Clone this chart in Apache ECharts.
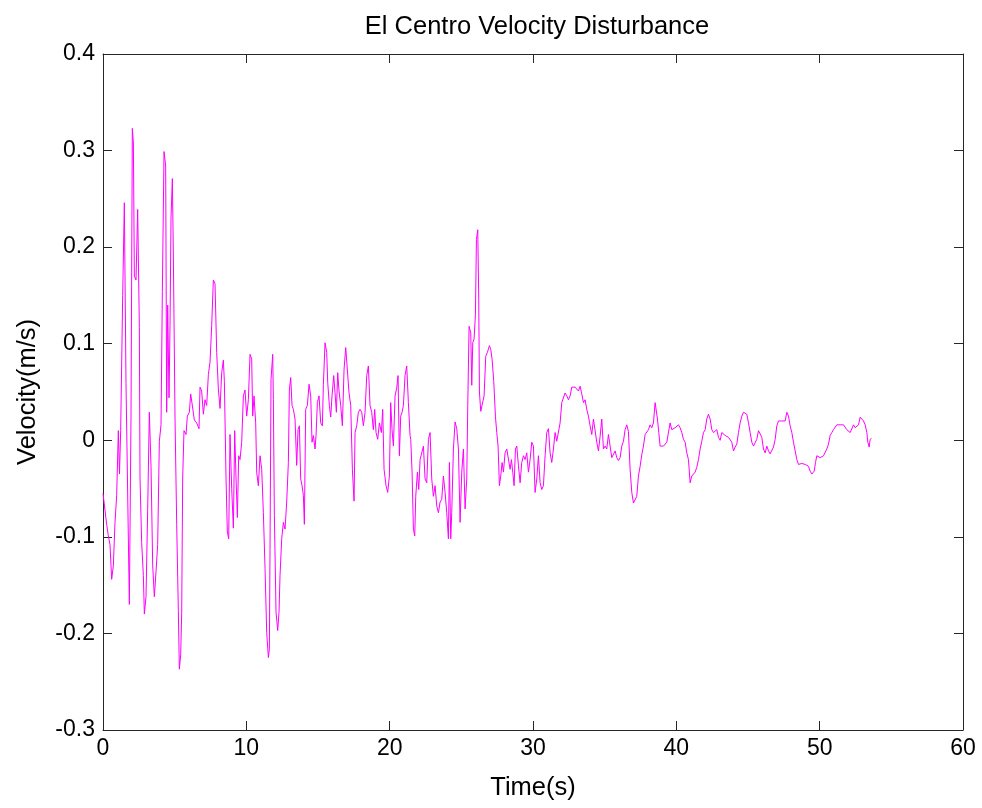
<!DOCTYPE html>
<html>
<head>
<meta charset="utf-8">
<script src="https://cdn.jsdelivr.net/npm/echarts@6/dist/echarts.min.js"></script>
<style>
html,body{margin:0;padding:0;background:#fff;}
#chart{width:982px;height:808px;}
</style>
</head>
<body>
<div id="chart"></div>
<script>
var chartTitle = 'El Centro Velocity Disturbance';
var xName = 'Time(s)';
var yName = 'Velocity(m/s)';
var xTicks = [0, 10, 20, 30, 40, 50, 60];
var yTicks = [-0.3, -0.2, -0.1, 0, 0.1, 0.2, 0.3, 0.4];

var timeS = [
0,0.256,0.372,0.489,0.605,0.721,0.838,0.954,1.07,1.15,1.233,1.373,1.489,1.605,1.698,1.838,1.954,2.047,2.12,2.187,
2.303,2.419,2.536,2.582,2.698,2.815,2.885,3.001,3.117,3.233,3.35,3.466,3.582,3.699,3.815,3.931,4.048,4.141,4.257,4.373,
4.443,4.513,4.606,4.676,4.745,4.838,4.908,5.025,5.141,5.257,5.327,5.42,5.49,5.559,5.652,5.792,5.885,6.025,6.118,6.257,
6.374,6.536,6.699,6.769,6.885,7.001,7.118,7.234,7.351,7.467,7.583,7.699,7.816,7.932,8.048,8.165,8.281,8.397,8.467,8.583,
8.676,8.769,8.862,8.979,9.095,9.188,9.281,9.374,9.467,
9.56,9.676,9.793,9.909,10.025,10.142,10.258,10.374,10.444,10.537,10.653,10.723,10.839,10.956,11.072,11.188,11.305,11.421,11.537,11.607,
11.653,11.723,11.84,11.886,11.956,12.072,12.188,12.281,12.351,12.468,12.584,12.7,12.816,12.933,13.002,13.096,13.189,13.282,13.398,13.514,
13.607,13.7,13.793,13.886,13.979,14.049,14.142,14.258,14.375,14.491,14.584,14.677,14.793,14.863,14.956,15.073,15.189,15.305,15.375,15.491,
15.608,15.677,15.794,15.887,15.98,16.096,16.189,16.282,16.375,16.468,16.585,16.701,16.817,16.934,17.073,17.166,17.283,17.399,17.515,17.585,
17.701,17.817,17.934,18.05,18.166,18.283,18.399,18.515,18.631,18.748,18.864,18.957,19.05,19.166,19.283,19.422,19.515,19.608,19.748,19.864,
19.98,20.073,20.166,20.26,20.376,20.492,20.585,20.678,20.771,20.864,20.957,21.073,21.19,21.306,21.422,
21.47,21.563,21.656,21.749,21.819,21.936,22.029,22.122,22.238,22.354,22.471,22.587,22.703,22.819,22.936,23.052,23.168,23.285,23.401,23.517,
23.634,23.75,23.866,23.982,24.099,24.168,24.262,24.331,24.448,24.564,24.68,24.797,24.913,25.029,25.145,25.262,25.378,25.448,25.541,25.657,
25.727,25.797,25.89,25.983,26.053,26.146,26.215,26.262,26.355,26.494,26.587,26.704,26.82,26.96,27.053,27.146,27.262,27.378,27.471,27.564,
27.657,27.751,27.844,27.937,28.053,28.169,28.286,28.402,28.495,28.588,28.681,28.774,28.867,28.983,29.1,29.216,29.332,29.449,29.565,29.681,
29.797,29.914,30.03,30.146,30.263,30.379,30.495,30.612,30.728,30.844,30.96,31.077,31.193,
31.309,31.425,31.542,31.658,31.774,31.891,32.007,32.123,32.24,32.356,32.472,32.588,32.705,32.821,32.937,33.054,33.17,33.286,33.403,33.519,
33.635,33.751,33.868,33.984,34.1,34.217,34.333,34.449,34.566,34.682,34.798,34.914,35.031,35.147,35.263,35.38,35.496,35.612,35.729,35.845,
35.961,36.077,36.194,36.31,36.426,36.543,36.659,36.775,36.892,37.008,37.124,37.24,37.357,37.473,37.589,37.706,37.822,37.938,38.055,38.171,
38.287,38.403,38.52,38.59,38.683,38.776,38.869,38.985,39.101,39.218,39.334,39.45,39.566,39.683,39.799,39.915,40.032,40.148,40.264,40.381,
40.497,40.613,40.729,40.846,40.962,41.078,41.195,41.311,41.427,41.544,41.66,41.776,41.892,42.009,42.125,42.241,42.358,
42.475,42.591,42.708,42.824,42.94,43.057,43.173,43.289,43.406,43.522,43.638,43.754,43.871,43.987,44.103,44.22,44.336,44.452,44.569,44.685,
44.801,44.917,45.034,45.15,45.266,45.383,45.499,45.615,45.732,45.848,45.964,46.08,46.197,46.313,46.429,46.546,46.662,46.778,46.895,47.011,
47.127,47.243,47.36,47.476,47.592,47.709,47.825,47.941,48.058,48.174,48.29,48.406,48.523,48.639,48.755,48.872,48.988,49.104,49.221,49.337,
49.453,49.523,49.616,49.709,49.802,49.918,50.035,50.151,50.267,50.384,50.5,50.616,50.732,50.849,50.965,51.081,51.198,51.314,51.43,51.547,
51.663,51.779,51.895,52.012,52.128,52.244,52.361,52.477,52.593,52.71,52.826,52.942,53.058,53.175,53.291,53.361,53.454,53.524,53.617
];

var velocity = [
-0.055,-0.087,-0.099,-0.108,-0.144,-0.13,-0.085,-0.057,0.01,-0.035,0.01,0.15,0.246,0.059,0.059,-0.17,0.025,0.323,0.308,0.17,
0.166,0.239,0.117,-0.039,-0.106,-0.14,-0.18,-0.162,-0.072,0.029,-0.027,-0.129,-0.162,-0.136,-0.108,-0.001,0.016,0.154,0.299,0.284,
0.029,0.14,0.044,0.119,0.23,0.271,0.192,0.023,-0.087,-0.177,-0.237,-0.222,-0.179,-0.039,0.01,0.006,0.025,0.029,0.048,0.048,
0.021,0.018,0.012,0.055,0.051,0.027,0.042,0.036,0.068,0.081,0.119,0.166,0.162,0.091,0.053,0.033,0.07,0.083,0.061,-0.039,
-0.095,-0.102,0.006,-0.05,-0.091,0.01,-0.039,-0.08,-0.016,
-0.02,-0.002,0.046,0.052,0.025,0.042,0.089,0.084,0.025,0.046,0.018,-0.033,-0.047,-0.016,-0.03,-0.075,-0.133,-0.199,-0.225,-0.216,
-0.113,0.063,0.089,0.042,-0.078,-0.178,-0.197,-0.178,-0.14,-0.102,-0.085,-0.092,-0.064,-0.023,0.052,0.065,0.036,0.032,0.022,-0.026,
0.011,0.015,-0.04,-0.047,-0.057,-0.087,0.032,0.036,0.058,0.046,-0.002,0.005,-0.009,0.005,0.039,0.046,0.018,0.015,0.058,0.101,
0.091,0.06,0.036,0.024,0.046,0.067,0.049,0.029,0.07,0.051,0.036,0.015,0.073,0.096,0.094,0.049,0.036,-0.03,-0.063,0.008,
0.015,0.029,0.032,0.029,0.015,0.029,0.067,0.077,0.036,0.029,0.011,0.032,0.008,0.001,0.018,0.008,0.032,-0.03,-0.047,-0.054,
-0.037,0.039,0.011,-0.006,0.046,0.054,0.067,-0.016,0.025,0.029,0.036,0.067,0.077,0.039,0.005,
0.001,-0.033,-0.092,-0.099,-0.058,-0.033,-0.051,-0.02,-0.013,-0.006,-0.04,-0.044,0.001,0.008,-0.04,-0.058,-0.047,-0.068,-0.075,-0.064,
-0.061,-0.037,-0.054,-0.075,-0.102,-0.023,-0.102,-0.075,-0.009,0.019,0.012,-0.009,-0.085,-0.033,-0.009,-0.071,-0.04,0.036,0.118,0.111,
0.057,0.101,0.105,0.13,0.208,0.218,0.146,0.05,0.03,0.029,0.046,0.087,0.091,0.098,0.094,0.084,0.061,0.025,0.008,-0.006,
-0.047,-0.037,-0.023,-0.033,-0.013,-0.009,-0.009,-0.03,-0.02,-0.033,-0.047,-0.009,-0.006,-0.026,-0.044,-0.023,-0.016,-0.02,-0.013,-0.033,
-0.02,-0.002,-0.006,-0.054,-0.04,-0.016,-0.044,-0.051,-0.047,-0.016,0.008,0.012,-0.013,
-0.023,-0.009,0.008,-0.001,-0.002,0.018,0.039,0.041,0.049,0.046,0.042,0.046,0.055,0.056,0.055,0.055,0.051,0.056,0.048,0.039,
0.042,0.032,0.025,0.015,0.006,0.022,0.022,-0.002,-0.011,0.004,0.022,-0.009,-0.006,-0.009,0.006,-0.006,-0.018,-0.016,-0.011,-0.018,
-0.021,-0.018,-0.006,-0.001,0.011,0.016,0.009,-0.03,-0.054,-0.065,-0.066,-0.058,-0.037,-0.027,-0.015,-0.006,0.006,0.008,0.011,0.016,
0.013,0.018,0.039,0.037,0.022,0.008,-0.006,-0.007,-0.006,-0.004,-0.002,-0.001,0.018,0.011,0.009,0.013,0.011,0.016,0.013,0.008,
0.001,-0.002,-0.013,-0.02,-0.044,-0.037,-0.035,-0.033,-0.028,-0.02,-0.009,-0.001,0.008,0.011,0.022,0.027,0.022,
0.011,0.008,0.01,0.011,0.003,0.0,0.008,0.006,0.005,0.005,0.003,0.001,-0.002,-0.011,-0.007,-0.004,0.008,0.018,0.025,0.029,
0.031,0.027,0.018,0.008,-0.002,-0.006,-0.007,0.001,0.01,0.01,0.003,-0.009,-0.013,-0.006,-0.011,-0.014,-0.014,-0.007,0.001,0.015,
0.02,0.022,0.02,0.018,0.02,0.029,0.025,0.015,0.008,-0.002,-0.011,-0.02,-0.025,-0.025,-0.024,-0.024,-0.025,-0.024,-0.027,-0.032,
-0.035,-0.036,-0.032,-0.023,-0.016,-0.016,-0.018,-0.018,-0.016,-0.014,-0.009,-0.004,0.005,0.008,0.011,0.011,0.016,0.018,0.016,0.018,
0.016,0.015,0.011,0.01,0.008,0.01,0.016,0.013,0.011,0.016,0.024,0.025,0.02,0.016,0.008,-0.002,-0.007,0.001,0.002
];

var seriesData = timeS.map(function (t, i) { return [t, velocity[i]]; });

var FONT = '"Liberation Sans", Arial, Helvetica, sans-serif';
var AXC = '#262626';

function fmtY(v) {
  var r = Math.round(v * 10) / 10;
  return r === 0 ? '0' : String(r);
}

var chart = echarts.init(document.getElementById('chart'), null, { renderer: 'canvas' });
chart.setOption({
  backgroundColor: '#ffffff',
  animation: false,
  title: {
    text: chartTitle,
    left: 532,
    textAlign: 'center',
    top: 9,
    textStyle: { fontFamily: FONT, fontSize: 25.5, fontWeight: 'normal', color: '#000' }
  },
  grid: { left: 103, right: 19, top: 54, bottom: 78, containLabel: false },
  xAxis: [
    {
      type: 'value', min: xTicks[0], max: xTicks[xTicks.length - 1], interval: 10,
      position: 'bottom',
      name: xName, nameLocation: 'middle', nameGap: 45,
      nameTextStyle: { fontFamily: FONT, fontSize: 25.5, color: '#000' },
      axisLine: { onZero: false, lineStyle: { color: AXC, width: 1 } },
      axisTick: { inside: true, length: 9, lineStyle: { color: AXC } },
      axisLabel: { margin: 7, fontFamily: FONT, fontSize: 23, color: '#000' },
      splitLine: { show: false }
    },
    {
      type: 'value', min: xTicks[0], max: xTicks[xTicks.length - 1], interval: 10,
      position: 'top',
      axisLine: { onZero: false, lineStyle: { color: AXC, width: 1 } },
      axisTick: { inside: true, length: 9, lineStyle: { color: AXC } },
      axisLabel: { show: false },
      splitLine: { show: false }
    }
  ],
  yAxis: [
    {
      type: 'value', min: yTicks[0], max: yTicks[yTicks.length - 1], interval: 0.1,
      position: 'left',
      name: yName, nameLocation: 'middle', nameGap: 62, nameRotate: 90,
      nameTextStyle: { fontFamily: FONT, fontSize: 25.5, color: '#000' },
      axisLine: { onZero: false, lineStyle: { color: AXC, width: 1 } },
      axisTick: { inside: true, length: 9, lineStyle: { color: AXC } },
      axisLabel: { margin: 8, fontFamily: FONT, fontSize: 23, color: '#000', formatter: fmtY },
      splitLine: { show: false }
    },
    {
      type: 'value', min: yTicks[0], max: yTicks[yTicks.length - 1], interval: 0.1,
      position: 'right',
      axisLine: { onZero: false, lineStyle: { color: AXC, width: 1 } },
      axisTick: { inside: true, length: 9, lineStyle: { color: AXC } },
      axisLabel: { show: false },
      splitLine: { show: false }
    }
  ],
  series: [
    {
      type: 'line',
      xAxisIndex: 0,
      yAxisIndex: 0,
      data: seriesData,
      showSymbol: false,
      symbol: 'none',
      smooth: false,
      lineStyle: { color: '#ff00ff', width: 1 },
      z: 1
    }
  ]
});
</script>
</body>
</html>
